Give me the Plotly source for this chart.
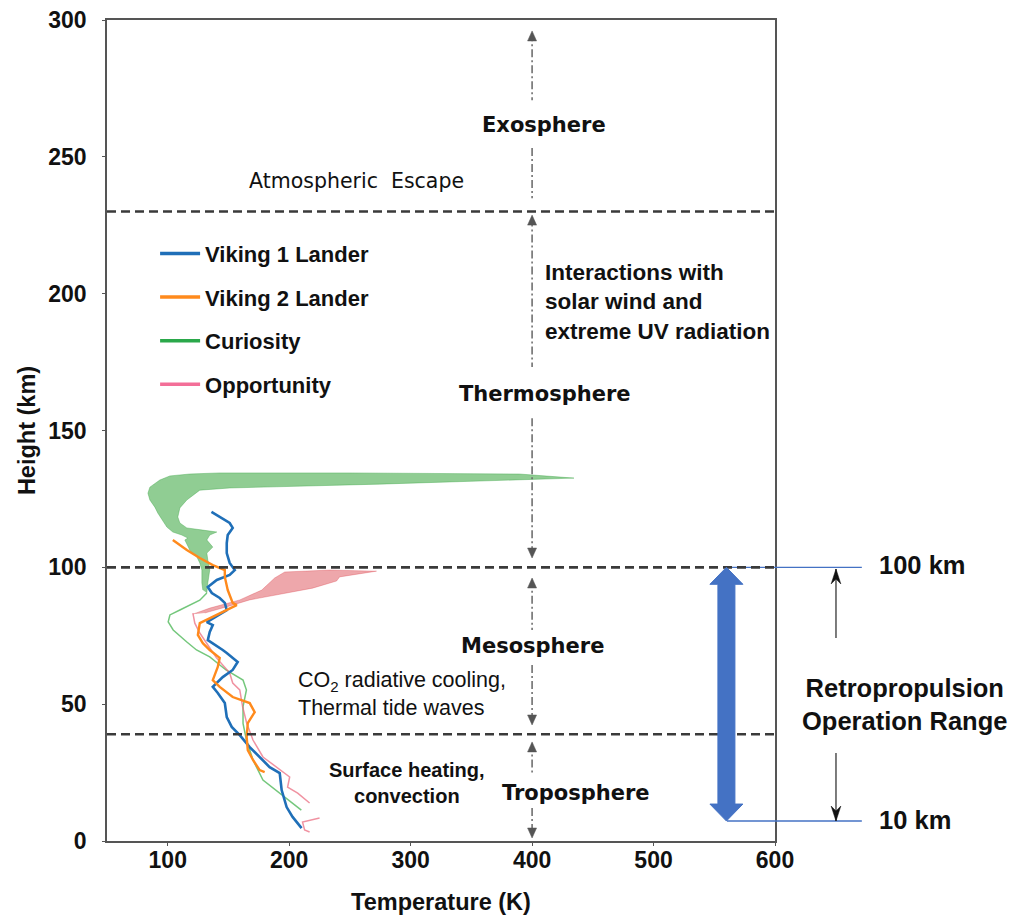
import plotly.graph_objects as go

# ---------------- data ----------------
x_ticks = [100, 200, 300, 400, 500, 600]
y_ticks = [0, 50, 100, 150, 200, 250, 300]

series_names = ["Viking 1 Lander", "Viking 2 Lander", "Curiosity", "Opportunity"]

v1_temp = [136.0, 142.8, 151.0, 153.5, 149.4, 148.6, 148.6, 151.0, 155.2, 151.0, 140.4, 133.0, 136.3, 142.8,
           147.0, 148.6, 138.7, 132.2, 137.1, 134.6, 133.0, 137.0, 145.3, 148.6, 157.6, 153.5, 145.3, 137.1,
           141.2, 147.0, 148.6, 152.7, 159.3, 167.5, 175.7, 183.9, 192.2, 193.8, 197.9, 202.8, 210.2]
v1_height = [120.3, 118.4, 116.2, 114.4, 111.8, 108.9, 105.2, 101.6, 99.0, 97.2, 95.4, 92.8, 90.6, 88.8,
             87.0, 84.4, 81.8, 80.0, 78.9, 76.4, 73.4, 72.3, 69.8, 68.7, 65.4, 62.5, 59.9, 56.3,
             54.1, 50.4, 45.3, 41.7, 38.7, 34.3, 30.7, 27.0, 24.8, 18.6, 12.4, 8.8, 4.7]

v2_temp = [104.2, 115.7, 126.4, 137.1, 147.0, 147.0, 149.4, 153.5, 156.8, 148.6, 137.1, 126.4, 124.8, 128.9,
           134.6, 142.8, 141.2, 137.1, 142.8, 153.5, 167.5, 171.6, 165.9, 165.0, 165.9, 170.2, 175.7, 179.8]
v2_height = [110.0, 106.3, 103.4, 100.8, 99.0, 96.5, 91.7, 87.0, 86.2, 84.4, 81.8, 79.6, 75.3, 72.3,
             69.8, 66.9, 63.6, 58.8, 56.3, 52.6, 50.4, 47.1, 43.1, 38.0, 33.2, 29.6, 25.9, 25.2]

# Curiosity: noisy entry profile above ~90 km (outline of the band) and the lower profile
cur_band_temp = [128.9, 128.1, 128.1, 126.4, 124.0, 118.2, 114.1, 116.6, 111.6, 104.2, 99.3, 95.2, 91.9, 89.4,
                 85.3, 83.7, 85.3, 93.5, 101.8, 118.2, 142.9,
                 249.7, 331.8, 389.4, 434.5, 389.4, 331.8, 274.3, 208.6, 151.1, 126.4,
                 115.7, 110.0, 108.3, 110.0, 115.7, 128.9, 140.4, 134.6, 132.2, 137.1, 132.2, 133.0, 134.6,
                 133.0, 132.2]
cur_band_height = [91.7, 94.3, 99.0, 101.6, 103.8, 106.3, 110.0, 110.7, 111.8, 112.9, 114.7, 117.3, 119.8, 122.0,
                   124.6, 127.1, 129.3, 131.9, 133.4, 134.1, 134.5,
                   134.5, 134.3, 134.1, 132.6, 131.9, 131.2, 130.4, 129.7, 129.0, 128.2,
                   124.6, 121.7, 118.4, 116.2, 114.4, 113.6, 112.9, 111.8, 110.0, 107.4, 105.2, 102.7, 99.0,
                   94.3, 90.6]
cur_temp = [132.2, 126.4, 110.0, 101.8, 100.4, 104.5, 115.5, 123.7, 134.6, 148.0, 162.0, 164.8, 162.0, 162.0,
            164.8, 170.2, 178.4, 192.2, 203.1, 210.0]
cur_height = [90.6, 88.0, 84.4, 82.6, 80.1, 77.1, 72.8, 69.8, 67.3, 62.5, 58.8, 55.2, 49.1, 43.0,
              36.9, 29.6, 22.3, 17.4, 13.7, 11.3]

# Opportunity: noisy band 83-99 km and the lower profile
opp_band_temp = [120.7, 134.6, 159.3, 177.4, 188.0, 196.3, 233.2, 271.9, 241.5, 239.0, 219.3, 192.2, 167.5, 151.1, 130.5]
opp_band_height = [82.9, 85.1, 88.1, 91.7, 96.1, 98.3, 99.0, 98.6, 96.5, 95.0, 92.4, 90.2, 88.1, 85.9, 83.3]
opp_temp = [120.7, 122.3, 126.4, 132.2, 140.0, 151.0, 153.5, 159.3, 161.7, 165.0, 170.2, 178.4, 189.7, 200.4,
            198.7, 207.0, 216.8, None, 225.0, 211.0, 212.7, 216.8]
opp_height = [83.3, 79.6, 76.0, 72.3, 67.0, 61.4, 57.7, 55.2, 49.0, 43.1, 36.9, 30.7, 27.0, 23.4,
              19.7, 17.5, 13.9, None, 8.4, 6.9, 4.0, 3.3]

# layer boundaries (km) and retropropulsion range
boundaries = [230, 100, 39]
retro_top, retro_bottom = 100, 7.3

# ---------------- styling ----------------
ARIAL = "Liberation Sans, Arial, sans-serif"
DEJAVU = "DejaVu Sans, Verdana, sans-serif"
C_V1 = "#1f6fb8"
C_V2 = "#ff8a1c"
C_CUR = "#2aa84a"
C_OPP = "#f36f98"
C_ARROW = "#4472c4"

fig = go.Figure()

fig.add_trace(go.Scatter(x=cur_band_temp, y=cur_band_height, mode="lines", fill="toself",
                         fillcolor="rgba(76,175,80,0.62)", line=dict(color="rgba(60,165,70,0.5)", width=0.8),
                         showlegend=False, hoverinfo="skip"))
fig.add_trace(go.Scatter(x=cur_temp, y=cur_height, mode="lines",
                         line=dict(color="rgba(70,180,80,0.75)", width=1.5), showlegend=False))
fig.add_trace(go.Scatter(x=opp_band_temp, y=opp_band_height, mode="lines", fill="toself",
                         fillcolor="rgba(214,45,55,0.42)", line=dict(color="rgba(214,45,55,0.35)", width=0.8),
                         showlegend=False, hoverinfo="skip"))
fig.add_trace(go.Scatter(x=opp_temp, y=opp_height, mode="lines",
                         line=dict(color="rgba(235,110,130,0.75)", width=1.5), showlegend=False))
fig.add_trace(go.Scatter(x=v1_temp, y=v1_height, mode="lines",
                         line=dict(color=C_V1, width=2.6), showlegend=False))
fig.add_trace(go.Scatter(x=v2_temp, y=v2_height, mode="lines",
                         line=dict(color=C_V2, width=2.4), showlegend=False))

# legend entries
for i, (nm, col) in enumerate(zip(series_names, [C_V1, C_V2, C_CUR, C_OPP])):
    fig.add_trace(go.Scatter(x=[None], y=[None], mode="lines", name=nm,
                             line=dict(color=col, width=3.5), legendgroup=f"g{i}", legendrank=i + 1))

shapes = []
# retropropulsion guide lines (behind dashed lines)
for h in [retro_top, retro_bottom]:
    shapes.append(dict(type="line", xref="paper", yref="y", x0=0.928, x1=1.13, y0=h, y1=h,
                       line=dict(color=C_ARROW, width=1.3)))
# dashed layer boundaries
for h in boundaries:
    shapes.append(dict(type="line", xref="x", yref="y", x0=50, x1=600, y0=h, y1=h,
                       line=dict(color="#3a3a3a", width=2.6, dash="9px,5px")))
# dash-dot vertical segments at 400 K
vsegs = [(295.2, 270.7), (253.2, 234.9), (227.5, 173.2), (154.5, 104.5), (95.5, 77.1),
         (64.3, 43.2), (35.6, 24.1), (12.1, 2.0)]
for a, b in vsegs:
    shapes.append(dict(type="line", xref="x", yref="y", x0=400, x1=400, y0=a, y1=b,
                       line=dict(color="#666666", width=1.5, dash="8px,3px,2px,3px")))
# arrow heads of the dash-dot lines (pixel-sized triangles)
for tip, direction in [(296.0, "up"), (228.7, "up"), (103.4, "down"), (96.1, "up"),
                       (42.4, "down"), (36.2, "up"), (1.1, "down")]:
    s = -1 if direction == "up" else 1
    shapes.append(dict(type="path", xref="x", yref="y", xsizemode="pixel", ysizemode="pixel",
                       xanchor=400, yanchor=tip,
                       path=f"M 0,0 L -4.5,{s * 10} L 4.5,{s * 10} Z",
                       fillcolor="#555555", line=dict(color="#555555", width=0.5)))
# thin black arrows on the right
for y_tip, y_tail in [(99.4, 74.2), (7.3, 32.2)]:
    shapes.append(dict(type="line", xref="paper", yref="y", x0=1.0913, x1=1.0913, y0=y_tail, y1=y_tip,
                       line=dict(color="#111111", width=1.1)))
    s = -1 if y_tip > y_tail else 1
    shapes.append(dict(type="path", xref="paper", yref="y", ysizemode="pixel", yanchor=y_tip,
                       path=f"M 1.0913,0 L 1.0840,{s * 15} L 1.0913,{s * 10} L 1.0986,{s * 15} Z",
                       fillcolor="#111111", line=dict(color="#111111", width=0.5)))
# big double arrow
hl = 6.2
path = (f"M 0,{retro_top} L 16.5,{retro_top - hl} L 8.5,{retro_top - hl} L 8.5,{retro_bottom + hl} "
        f"L 16.5,{retro_bottom + hl} L 0,{retro_bottom} L -16.5,{retro_bottom + hl} L -8.5,{retro_bottom + hl} "
        f"L -8.5,{retro_top - hl} L -16.5,{retro_top - hl} Z")
shapes.append(dict(type="path", xref="x", yref="y", xsizemode="pixel", xanchor=560, path=path,
                   fillcolor=C_ARROW, line=dict(color=C_ARROW, width=1)))

ann = []


def txt(x, y, s, size, family=ARIAL, bold=False, xanchor="center", xref="x", align="center"):
    ann.append(dict(x=x, y=y, xref=xref, yref="y", text=s, showarrow=False, xanchor=xanchor,
                    yanchor="middle", align=align,
                    font=dict(family=family, size=size, color="#111111", weight="bold" if bold else "normal")))


txt(410.0, 261.8, "Exosphere", 21, DEJAVU, True)
txt(255.4, 241.3, "Atmospheric  Escape", 20.5, DEJAVU, False)
txt(409.0, 196.9, "Interactions with<br>solar wind and<br>extreme UV radiation", 22.5, ARIAL, True,
    xanchor="left", align="left")
txt(411.0, 163.3, "Thermosphere", 21, DEJAVU, True)
txt(400.4, 71.2, "Mesosphere", 21, DEJAVU, True)
txt(205.3, 53.7, "CO<sub>2</sub> radiative cooling,<br>Thermal tide waves", 21.5, ARIAL, False,
    xanchor="left", align="left")
txt(297.3, 21.2, "Surface heating,<br>convection", 20, ARIAL, True)
txt(436.0, 17.5, "Troposphere", 21, DEJAVU, True)
txt(1.1527, 100.9, "100 km", 25.5, ARIAL, True, xanchor="left", xref="paper")
txt(1.1527, 7.7, "10 km", 25.5, ARIAL, True, xanchor="left", xref="paper")
txt(1.194, 49.7, "Retropropulsion<br>Operation Range", 25.5, ARIAL, True, xref="paper")

axis_common = dict(showgrid=False, zeroline=False, showline=True, linecolor="#555555", linewidth=1.6,
                   mirror=True, ticks="outside", ticklen=3, tickcolor="#555555", automargin=False,
                   ticklabeloverflow="allow",
                   tickfont=dict(family=ARIAL, size=23, color="#111111", weight="bold"))

# the page body adds an 8 px offset, so the figure is 8 px smaller than the window
fig.update_layout(
    width=1010, height=907,
    margin=dict(l=99, r=243, t=12, b=74),
    plot_bgcolor="white", paper_bgcolor="white",
    xaxis=dict(range=[50, 600], tickvals=x_ticks, ticklabelstandoff=-5,
               title=dict(text="Temperature (K)", standoff=22,
                          font=dict(family=ARIAL, size=23.5, color="#111111", weight="bold")),
               **axis_common),
    yaxis=dict(range=[0, 300], tickvals=y_ticks, ticklabelstandoff=11,
               title=dict(text="Height (km)", standoff=6,
                          font=dict(family=ARIAL, size=23.5, color="#111111", weight="bold")),
               **axis_common),
    legend=dict(x=0.072, y=0.741, xanchor="left", yanchor="top", bgcolor="rgba(0,0,0,0)",
                font=dict(family=ARIAL, size=22, color="#111111", weight="bold"), traceorder="grouped",
                tracegroupgap=12, itemwidth=40),
    shapes=shapes, annotations=ann,
)

fig.write_html("out.html")
